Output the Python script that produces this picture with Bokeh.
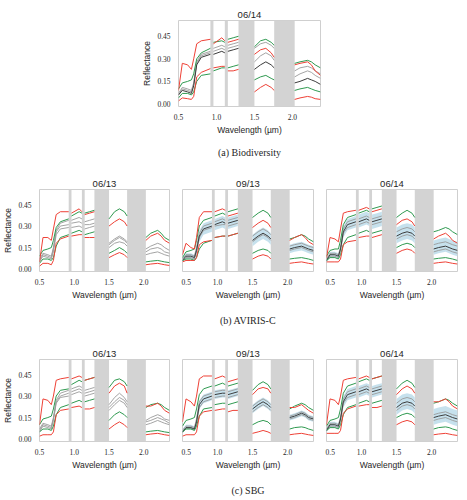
from bokeh.plotting import figure
from bokeh.layouts import column, row
from bokeh.models import Range1d, FixedTicker, BoxAnnotation, Title, PrintfTickFormatter
from bokeh.embed import file_html
from bokeh.resources import INLINE

# ---------------- data ----------------
WAVELENGTHS = [0.50, 0.55, 0.62, 0.67, 0.70, 0.74, 0.80, 0.92,
               0.96, 1.07, 1.11,
               1.15, 1.22, 1.29,
               1.50, 1.58, 1.65, 1.72, 1.76,
               2.03, 2.10, 2.20, 2.25, 2.30, 2.37]
BAND_START = [0.92, 1.11, 1.29, 1.76]
BAND_END = [0.96, 1.15, 1.50, 2.03]
X_TICKS = [0.5, 1.0, 1.5, 2.0]
X_TICK_LABELS = ["0.5", "1.0", "1.5", "2.0"]
Y_TICKS = [0.0, 0.15, 0.30, 0.45]
Y_TICK_LABELS = ["0.00", "0.15", "0.30", "0.45"]

# (a) Biodiversity 06/14
A_RED_HI = [0.09, 0.27, 0.26, 0.23, 0.30, 0.40, 0.42, 0.43, 0.40, 0.44, 0.42, 0.41, 0.42, 0.43, 0.33, 0.36, 0.37, 0.34, 0.31, 0.26, 0.27, 0.28, 0.26, 0.22, 0.19]
A_RED_LO = [0.02, 0.04, 0.035, 0.03, 0.05, 0.18, 0.21, 0.235, 0.24, 0.25, 0.25, 0.22, 0.22, 0.23, 0.08, 0.11, 0.13, 0.11, 0.09, 0.03, 0.04, 0.05, 0.045, 0.035, 0.03]
A_GREEN_HI = [0.10, 0.14, 0.15, 0.16, 0.20, 0.30, 0.34, 0.37, 0.41, 0.42, 0.41, 0.43, 0.44, 0.45, 0.38, 0.42, 0.43, 0.41, 0.39, 0.27, 0.28, 0.29, 0.28, 0.26, 0.24]
A_GREEN_LO = [0.04, 0.07, 0.07, 0.06, 0.08, 0.15, 0.19, 0.20, 0.22, 0.24, 0.24, 0.24, 0.25, 0.26, 0.16, 0.18, 0.19, 0.17, 0.16, 0.09, 0.10, 0.11, 0.10, 0.09, 0.08]
A_GRAY_1 = [0.07, 0.11, 0.10, 0.09, 0.14, 0.28, 0.33, 0.35, 0.37, 0.39, 0.38, 0.39, 0.40, 0.41, 0.37, 0.40, 0.41, 0.39, 0.37, 0.22, 0.24, 0.25, 0.24, 0.22, 0.20]
A_GRAY_2 = [0.06, 0.10, 0.09, 0.08, 0.13, 0.27, 0.32, 0.34, 0.35, 0.37, 0.36, 0.37, 0.38, 0.39, 0.28, 0.32, 0.34, 0.32, 0.29, 0.18, 0.20, 0.22, 0.21, 0.19, 0.17]
A_DARK = [0.06, 0.09, 0.08, 0.07, 0.12, 0.26, 0.31, 0.33, 0.33, 0.35, 0.34, 0.35, 0.36, 0.37, 0.23, 0.26, 0.28, 0.26, 0.24, 0.14, 0.15, 0.17, 0.16, 0.15, 0.13]

# (b) AVIRIS-C 06/13
B1_RED_HI = [0.05, 0.22, 0.22, 0.20, 0.28, 0.38, 0.40, 0.40, 0.39, 0.42, 0.40, 0.38, 0.39, 0.40, 0.30, 0.33, 0.35, 0.33, 0.30, 0.20, 0.23, 0.25, 0.23, 0.20, 0.18]
B1_RED_LO = [0.02, 0.04, 0.04, 0.03, 0.06, 0.18, 0.21, 0.23, 0.23, 0.24, 0.24, 0.22, 0.22, 0.22, 0.08, 0.10, 0.115, 0.10, 0.08, 0.03, 0.035, 0.04, 0.035, 0.03, 0.025]
B1_GREEN_HI = [0.09, 0.13, 0.14, 0.15, 0.20, 0.29, 0.33, 0.35, 0.37, 0.40, 0.39, 0.39, 0.40, 0.41, 0.35, 0.40, 0.42, 0.40, 0.37, 0.22, 0.25, 0.27, 0.25, 0.22, 0.20]
B1_GREEN_LO = [0.04, 0.07, 0.07, 0.06, 0.08, 0.16, 0.22, 0.24, 0.25, 0.27, 0.26, 0.24, 0.25, 0.26, 0.11, 0.13, 0.15, 0.13, 0.11, 0.05, 0.055, 0.06, 0.055, 0.05, 0.045]
B1_GRAY_1 = [0.07, 0.11, 0.10, 0.09, 0.15, 0.27, 0.32, 0.34, 0.34, 0.36, 0.35, 0.33, 0.34, 0.35, 0.18, 0.21, 0.23, 0.21, 0.19, 0.14, 0.16, 0.18, 0.17, 0.15, 0.13]
B1_GRAY_2 = [0.06, 0.10, 0.09, 0.08, 0.14, 0.26, 0.30, 0.31, 0.32, 0.33, 0.32, 0.31, 0.31, 0.32, 0.17, 0.20, 0.22, 0.20, 0.18, 0.12, 0.14, 0.15, 0.14, 0.12, 0.11]
B1_GRAY_3 = [0.05, 0.09, 0.08, 0.07, 0.12, 0.24, 0.28, 0.29, 0.29, 0.30, 0.29, 0.28, 0.29, 0.30, 0.15, 0.18, 0.19, 0.18, 0.16, 0.10, 0.11, 0.12, 0.11, 0.10, 0.09]

# (b) AVIRIS-C 09/13
B2_RED_HI = [0.10, 0.18, 0.15, 0.14, 0.22, 0.36, 0.40, 0.40, 0.40, 0.42, 0.41, 0.37, 0.38, 0.39, 0.29, 0.32, 0.34, 0.32, 0.29, 0.20, 0.22, 0.24, 0.22, 0.19, 0.17]
B2_RED_LO = [0.05, 0.06, 0.06, 0.06, 0.08, 0.17, 0.19, 0.20, 0.22, 0.23, 0.23, 0.23, 0.24, 0.25, 0.07, 0.09, 0.10, 0.09, 0.07, 0.04, 0.045, 0.05, 0.045, 0.04, 0.035]
B2_GREEN_HI = [0.08, 0.12, 0.13, 0.14, 0.20, 0.30, 0.34, 0.36, 0.37, 0.39, 0.38, 0.40, 0.41, 0.42, 0.36, 0.39, 0.41, 0.39, 0.36, 0.21, 0.22, 0.24, 0.23, 0.21, 0.19]
B2_GREEN_LO = [0.06, 0.07, 0.07, 0.06, 0.08, 0.14, 0.18, 0.20, 0.22, 0.23, 0.23, 0.23, 0.24, 0.25, 0.11, 0.13, 0.14, 0.13, 0.11, 0.07, 0.075, 0.08, 0.075, 0.07, 0.06]
B2_BLUE_HI = [0.08, 0.11, 0.11, 0.10, 0.16, 0.27, 0.32, 0.34, 0.35, 0.37, 0.36, 0.36, 0.37, 0.38, 0.24, 0.27, 0.29, 0.27, 0.25, 0.17, 0.18, 0.19, 0.18, 0.17, 0.16]
B2_BLUE_LO = [0.05, 0.07, 0.07, 0.06, 0.10, 0.19, 0.24, 0.26, 0.27, 0.29, 0.28, 0.28, 0.29, 0.30, 0.16, 0.19, 0.21, 0.19, 0.17, 0.11, 0.12, 0.13, 0.12, 0.11, 0.10]
B2_GRAY_1 = [0.07, 0.10, 0.10, 0.09, 0.15, 0.25, 0.30, 0.32, 0.33, 0.35, 0.34, 0.34, 0.35, 0.36, 0.23, 0.26, 0.28, 0.26, 0.24, 0.16, 0.17, 0.18, 0.17, 0.16, 0.15]
B2_GRAY_2 = [0.055, 0.08, 0.08, 0.07, 0.12, 0.22, 0.27, 0.29, 0.30, 0.31, 0.31, 0.30, 0.31, 0.32, 0.19, 0.22, 0.24, 0.22, 0.20, 0.13, 0.14, 0.15, 0.14, 0.13, 0.12]
B2_DARK = [0.06, 0.09, 0.09, 0.08, 0.13, 0.23, 0.28, 0.30, 0.31, 0.33, 0.32, 0.32, 0.33, 0.34, 0.20, 0.23, 0.25, 0.23, 0.21, 0.14, 0.15, 0.16, 0.15, 0.14, 0.13]

# (b) AVIRIS-C 06/14
B3_RED_HI = [0.08, 0.22, 0.21, 0.19, 0.28, 0.39, 0.40, 0.41, 0.41, 0.43, 0.42, 0.40, 0.41, 0.42, 0.31, 0.34, 0.35, 0.33, 0.30, 0.21, 0.23, 0.25, 0.23, 0.20, 0.18]
B3_RED_LO = [0.05, 0.05, 0.05, 0.05, 0.07, 0.17, 0.19, 0.20, 0.22, 0.23, 0.23, 0.22, 0.23, 0.24, 0.11, 0.13, 0.14, 0.13, 0.11, 0.04, 0.045, 0.05, 0.045, 0.04, 0.035]
B3_GREEN_HI = [0.09, 0.13, 0.14, 0.14, 0.20, 0.31, 0.36, 0.38, 0.39, 0.41, 0.40, 0.42, 0.43, 0.44, 0.36, 0.39, 0.41, 0.39, 0.36, 0.26, 0.27, 0.29, 0.28, 0.26, 0.24]
B3_GREEN_LO = [0.06, 0.08, 0.08, 0.07, 0.10, 0.17, 0.22, 0.24, 0.25, 0.27, 0.26, 0.25, 0.26, 0.27, 0.15, 0.17, 0.18, 0.17, 0.15, 0.07, 0.075, 0.08, 0.075, 0.07, 0.06]
B3_BLUE_HI = [0.08, 0.12, 0.12, 0.11, 0.17, 0.30, 0.35, 0.37, 0.38, 0.40, 0.39, 0.38, 0.39, 0.40, 0.29, 0.31, 0.32, 0.31, 0.29, 0.20, 0.21, 0.22, 0.21, 0.20, 0.19]
B3_BLUE_LO = [0.05, 0.08, 0.08, 0.07, 0.11, 0.22, 0.27, 0.29, 0.29, 0.31, 0.30, 0.28, 0.29, 0.30, 0.18, 0.20, 0.21, 0.20, 0.18, 0.10, 0.11, 0.12, 0.11, 0.10, 0.09]
B3_GRAY_1 = [0.07, 0.11, 0.11, 0.10, 0.15, 0.28, 0.33, 0.35, 0.35, 0.37, 0.36, 0.35, 0.36, 0.37, 0.26, 0.28, 0.29, 0.28, 0.26, 0.17, 0.18, 0.19, 0.18, 0.17, 0.16]
B3_GRAY_2 = [0.055, 0.09, 0.09, 0.08, 0.13, 0.25, 0.29, 0.31, 0.31, 0.33, 0.32, 0.31, 0.32, 0.33, 0.21, 0.23, 0.24, 0.23, 0.21, 0.12, 0.13, 0.14, 0.13, 0.12, 0.11]
B3_DARK = [0.06, 0.10, 0.10, 0.09, 0.14, 0.26, 0.31, 0.33, 0.33, 0.35, 0.34, 0.33, 0.34, 0.35, 0.23, 0.25, 0.26, 0.25, 0.23, 0.14, 0.15, 0.16, 0.15, 0.14, 0.13]

# (c) SBG 06/13
C1_RED_HI = [0.10, 0.28, 0.27, 0.24, 0.30, 0.41, 0.42, 0.43, 0.42, 0.44, 0.43, 0.41, 0.42, 0.43, 0.32, 0.37, 0.39, 0.37, 0.32, 0.23, 0.23, 0.25, 0.23, 0.20, 0.18]
C1_RED_LO = [0.02, 0.03, 0.03, 0.03, 0.05, 0.17, 0.20, 0.21, 0.22, 0.23, 0.22, 0.21, 0.21, 0.22, 0.07, 0.10, 0.12, 0.10, 0.08, 0.03, 0.035, 0.04, 0.035, 0.03, 0.025]
C1_GREEN_HI = [0.10, 0.14, 0.15, 0.16, 0.21, 0.30, 0.34, 0.35, 0.38, 0.41, 0.40, 0.41, 0.42, 0.43, 0.36, 0.41, 0.42, 0.40, 0.37, 0.22, 0.24, 0.25, 0.24, 0.22, 0.20]
C1_GREEN_LO = [0.05, 0.07, 0.07, 0.06, 0.09, 0.17, 0.22, 0.24, 0.25, 0.27, 0.26, 0.26, 0.27, 0.28, 0.13, 0.17, 0.19, 0.17, 0.15, 0.05, 0.055, 0.06, 0.055, 0.05, 0.045]
C1_GRAY_1 = [0.07, 0.11, 0.10, 0.09, 0.15, 0.27, 0.32, 0.34, 0.35, 0.37, 0.36, 0.34, 0.35, 0.36, 0.24, 0.29, 0.32, 0.29, 0.26, 0.13, 0.15, 0.17, 0.16, 0.14, 0.13]
C1_GRAY_2 = [0.06, 0.10, 0.09, 0.08, 0.14, 0.26, 0.30, 0.32, 0.33, 0.35, 0.34, 0.32, 0.33, 0.34, 0.22, 0.26, 0.29, 0.27, 0.24, 0.12, 0.13, 0.15, 0.14, 0.13, 0.11]
C1_GRAY_3 = [0.05, 0.09, 0.08, 0.07, 0.13, 0.25, 0.29, 0.30, 0.31, 0.33, 0.32, 0.30, 0.31, 0.32, 0.20, 0.24, 0.27, 0.25, 0.22, 0.10, 0.11, 0.13, 0.12, 0.11, 0.10]

# (c) SBG 09/13
C2_RED_HI = [0.12, 0.28, 0.26, 0.23, 0.30, 0.42, 0.44, 0.44, 0.42, 0.44, 0.43, 0.40, 0.41, 0.42, 0.31, 0.35, 0.36, 0.35, 0.32, 0.22, 0.22, 0.24, 0.22, 0.20, 0.18]
C2_RED_LO = [0.02, 0.03, 0.03, 0.03, 0.05, 0.16, 0.19, 0.20, 0.20, 0.21, 0.21, 0.19, 0.20, 0.20, 0.04, 0.05, 0.06, 0.05, 0.04, 0.03, 0.035, 0.04, 0.035, 0.03, 0.025]
C2_GREEN_HI = [0.09, 0.13, 0.14, 0.15, 0.21, 0.31, 0.35, 0.37, 0.37, 0.39, 0.38, 0.37, 0.38, 0.39, 0.34, 0.38, 0.40, 0.38, 0.35, 0.21, 0.23, 0.25, 0.24, 0.22, 0.20]
C2_GREEN_LO = [0.05, 0.07, 0.07, 0.06, 0.09, 0.16, 0.21, 0.22, 0.24, 0.25, 0.25, 0.24, 0.25, 0.26, 0.10, 0.12, 0.13, 0.12, 0.10, 0.07, 0.08, 0.085, 0.08, 0.07, 0.06]
C2_BLUE_HI = [0.07, 0.10, 0.10, 0.09, 0.15, 0.27, 0.31, 0.33, 0.34, 0.35, 0.35, 0.34, 0.35, 0.36, 0.24, 0.27, 0.29, 0.27, 0.25, 0.17, 0.18, 0.20, 0.19, 0.17, 0.16]
C2_BLUE_LO = [0.04, 0.07, 0.07, 0.06, 0.10, 0.21, 0.25, 0.27, 0.28, 0.29, 0.29, 0.28, 0.29, 0.30, 0.18, 0.21, 0.23, 0.21, 0.19, 0.13, 0.14, 0.16, 0.15, 0.13, 0.12]
C2_GRAY_1 = [0.06, 0.09, 0.09, 0.08, 0.14, 0.26, 0.30, 0.32, 0.33, 0.34, 0.34, 0.33, 0.34, 0.35, 0.23, 0.26, 0.28, 0.26, 0.24, 0.16, 0.17, 0.19, 0.18, 0.16, 0.15]
C2_GRAY_2 = [0.045, 0.075, 0.075, 0.065, 0.11, 0.22, 0.26, 0.28, 0.29, 0.30, 0.30, 0.29, 0.30, 0.31, 0.19, 0.22, 0.24, 0.22, 0.20, 0.14, 0.15, 0.17, 0.16, 0.14, 0.13]
C2_DARK = [0.05, 0.08, 0.08, 0.07, 0.12, 0.24, 0.28, 0.30, 0.31, 0.32, 0.32, 0.31, 0.32, 0.33, 0.21, 0.24, 0.26, 0.24, 0.22, 0.15, 0.16, 0.18, 0.17, 0.15, 0.14]

# (c) SBG 06/14
C3_RED_HI = [0.10, 0.28, 0.27, 0.24, 0.30, 0.41, 0.42, 0.43, 0.42, 0.44, 0.43, 0.42, 0.43, 0.44, 0.31, 0.35, 0.37, 0.35, 0.32, 0.26, 0.26, 0.28, 0.26, 0.23, 0.21]
C3_RED_LO = [0.04, 0.04, 0.04, 0.04, 0.06, 0.18, 0.21, 0.23, 0.23, 0.24, 0.24, 0.22, 0.22, 0.23, 0.10, 0.12, 0.13, 0.12, 0.10, 0.03, 0.035, 0.04, 0.035, 0.03, 0.025]
C3_GREEN_HI = [0.09, 0.13, 0.14, 0.15, 0.21, 0.32, 0.37, 0.39, 0.40, 0.42, 0.41, 0.42, 0.43, 0.44, 0.35, 0.39, 0.41, 0.39, 0.36, 0.25, 0.26, 0.28, 0.27, 0.25, 0.23]
C3_GREEN_LO = [0.06, 0.08, 0.08, 0.07, 0.10, 0.17, 0.22, 0.24, 0.25, 0.27, 0.26, 0.25, 0.26, 0.27, 0.15, 0.17, 0.18, 0.17, 0.15, 0.07, 0.08, 0.085, 0.08, 0.07, 0.06]
C3_BLUE_HI = [0.08, 0.12, 0.12, 0.11, 0.17, 0.30, 0.35, 0.37, 0.37, 0.39, 0.38, 0.37, 0.38, 0.39, 0.28, 0.31, 0.32, 0.31, 0.29, 0.21, 0.22, 0.23, 0.22, 0.21, 0.20]
C3_BLUE_LO = [0.05, 0.08, 0.08, 0.07, 0.11, 0.22, 0.27, 0.29, 0.29, 0.31, 0.30, 0.29, 0.30, 0.31, 0.17, 0.20, 0.21, 0.20, 0.18, 0.10, 0.11, 0.12, 0.11, 0.10, 0.09]
C3_GRAY_1 = [0.07, 0.11, 0.11, 0.10, 0.15, 0.28, 0.33, 0.35, 0.35, 0.37, 0.36, 0.35, 0.36, 0.37, 0.25, 0.28, 0.29, 0.28, 0.26, 0.17, 0.18, 0.19, 0.18, 0.17, 0.16]
C3_GRAY_2 = [0.055, 0.09, 0.09, 0.08, 0.13, 0.25, 0.29, 0.31, 0.31, 0.33, 0.32, 0.31, 0.32, 0.33, 0.20, 0.23, 0.24, 0.23, 0.21, 0.13, 0.14, 0.15, 0.14, 0.13, 0.12]
C3_DARK = [0.06, 0.10, 0.10, 0.09, 0.14, 0.26, 0.31, 0.33, 0.33, 0.35, 0.34, 0.33, 0.34, 0.35, 0.22, 0.25, 0.26, 0.25, 0.23, 0.15, 0.16, 0.17, 0.16, 0.15, 0.14]

# ---------------- styling ----------------
RED = "#ee4136"
GREEN = "#2f9a50"
GRAY = "#9a9a9a"
DARK = "#3c3c3c"
BLUE = "#bcdcea"
BAND = "#d3d3d3"
FRAME = "#cfcfcf"
TXT = "#262626"
SANS = "Liberation Sans"
SERIF = "Liberation Serif"
X_RANGE = (0.4999, 2.37)
Y_RANGE = (-0.017, 0.555)


def split(ys):
    sx, sy = [[]], [[]]
    for i, (w, y) in enumerate(zip(WAVELENGTHS, ys)):
        if i > 0 and any(WAVELENGTHS[i - 1] <= s and e <= w for s, e in zip(BAND_START, BAND_END)):
            sx.append([])
            sy.append([])
        sx[-1].append(w)
        sy[-1].append(y)
    return sx, sy


def panel(title, width, height, left, right, top, bottom, grays, dark=None,
          blue=None, reds=(), greens=(), show_y=True, caption=None, cap_standoff=10):
    p = figure(width=width, height=height, x_range=Range1d(*X_RANGE), y_range=Range1d(*Y_RANGE),
               output_backend="svg", toolbar_location=None, title=title,
               min_border_left=left, min_border_right=right,
               min_border_top=top, min_border_bottom=bottom)
    p.title.align = "center"
    p.title.text_font = SANS
    p.title.text_font_size = "9.5px"
    p.title.text_font_style = "normal"
    p.title.text_color = TXT
    p.title.standoff = 1
    p.outline_line_color = FRAME
    p.outline_line_width = 1
    p.grid.visible = False
    p.background_fill_color = "white"
    p.border_fill_color = "white"

    for s, e in zip(BAND_START, BAND_END):
        p.add_layout(BoxAnnotation(left=s, right=e, fill_color=BAND, fill_alpha=1.0,
                                   line_color=None, level="underlay"))

    if blue is not None:
        lx, lo = split(blue[0])
        _, hi = split(blue[1])
        for x, a, b in zip(lx, lo, hi):
            p.varea(x=x, y1=a, y2=b, fill_color=BLUE, fill_alpha=0.85)
    for g in grays:
        xs, ys = split(g)
        p.multi_line(xs, ys, line_color=GRAY, line_width=0.9)
    if dark is not None:
        xs, ys = split(dark)
        p.multi_line(xs, ys, line_color=DARK, line_width=1.0)
    for g in greens:
        xs, ys = split(g)
        p.multi_line(xs, ys, line_color=GREEN, line_width=1.0)
    for r in reds:
        xs, ys = split(r)
        p.multi_line(xs, ys, line_color=RED, line_width=1.0)

    for ax in (p.xaxis[0], p.yaxis[0]):
        ax.major_tick_line_color = None
        ax.minor_tick_line_color = None
        ax.axis_line_color = None
        ax.major_label_text_font = SERIF
        ax.major_label_text_font_size = "7.5px"
        ax.major_label_text_color = TXT
        ax.major_label_standoff = 2
        ax.axis_label_text_font = SANS
        ax.axis_label_text_font_size = "8.5px"
        ax.axis_label_text_font_style = "normal"
        ax.axis_label_text_color = TXT
        ax.axis_label_standoff = 2
    p.xaxis.major_label_standoff = 1
    p.xaxis.ticker = FixedTicker(ticks=X_TICKS)
    p.xaxis.formatter = PrintfTickFormatter(format="%.1f")
    p.xaxis.major_label_overrides = dict(zip(X_TICKS, X_TICK_LABELS))
    p.xaxis.axis_label = "Wavelength (µm)"
    p.yaxis.ticker = FixedTicker(ticks=Y_TICKS)
    p.yaxis.formatter = PrintfTickFormatter(format="%.2f")
    p.yaxis.major_label_overrides = dict(zip(Y_TICKS, Y_TICK_LABELS))
    p.yaxis.axis_label = "Reflectance"
    if not show_y:
        p.yaxis.visible = False
    if caption:
        p.add_layout(Title(text=caption, align="center", text_font=SERIF, text_font_size="10px",
                           text_font_style="normal", text_color=TXT, standoff=cap_standoff), "below")
    return p


pa = panel("06/14", 459, 165, 178, 139, 20, 55,
           grays=[A_GRAY_1, A_GRAY_2], dark=A_DARK,
           reds=[A_RED_HI, A_RED_LO], greens=[A_GREEN_HI, A_GREEN_LO],
           caption="(a) Biodiversity", cap_standoff=15)

HB = 171
pb1 = panel("06/13", 170, HB, 38, 1, 24, 56, grays=[B1_GRAY_1, B1_GRAY_2, B1_GRAY_3],
            reds=[B1_RED_HI, B1_RED_LO], greens=[B1_GREEN_HI, B1_GREEN_LO])
pb2 = panel("09/13", 133, HB, 1, 1, 24, 56, grays=[B2_GRAY_1, B2_GRAY_2], dark=B2_DARK,
            blue=(B2_BLUE_LO, B2_BLUE_HI), reds=[B2_RED_HI, B2_RED_LO],
            greens=[B2_GREEN_HI, B2_GREEN_LO], show_y=False, caption="(b) AVIRIS-C", cap_standoff=21)
pb3 = panel("06/14", 133, HB, 1, 1, 24, 56, grays=[B3_GRAY_1, B3_GRAY_2], dark=B3_DARK,
            blue=(B3_BLUE_LO, B3_BLUE_HI), reds=[B3_RED_HI, B3_RED_LO],
            greens=[B3_GREEN_HI, B3_GREEN_LO], show_y=False)

HC = 170
pc1 = panel("06/13", 170, HC, 38, 1, 23, 56, grays=[C1_GRAY_1, C1_GRAY_2, C1_GRAY_3],
            reds=[C1_RED_HI, C1_RED_LO], greens=[C1_GREEN_HI, C1_GREEN_LO])
pc2 = panel("09/13", 133, HC, 1, 1, 23, 56, grays=[C2_GRAY_1, C2_GRAY_2], dark=C2_DARK,
            blue=(C2_BLUE_LO, C2_BLUE_HI), reds=[C2_RED_HI, C2_RED_LO],
            greens=[C2_GREEN_HI, C2_GREEN_LO], show_y=False, caption="(c) SBG", cap_standoff=21)
pc3 = panel("06/14", 133, HC, 1, 1, 23, 56, grays=[C3_GRAY_1, C3_GRAY_2], dark=C3_DARK,
            blue=(C3_BLUE_LO, C3_BLUE_HI), reds=[C3_RED_HI, C3_RED_LO],
            greens=[C3_GREEN_HI, C3_GREEN_LO], show_y=False)

layout = column(pa, row(pb1, pb2, pb3, spacing=11), row(pc1, pc2, pc3, spacing=11), spacing=0)

open("out.html", "w").write(file_html(layout, INLINE))
